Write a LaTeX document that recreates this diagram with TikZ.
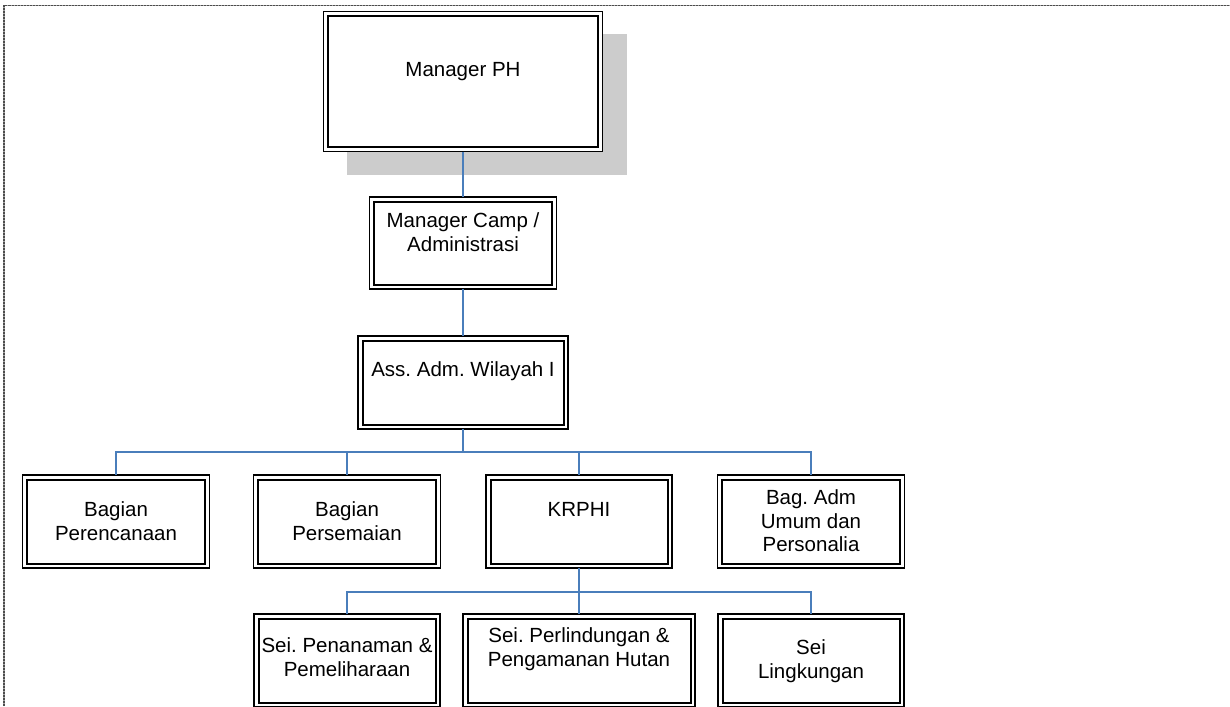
\documentclass[tikz,border=0pt]{standalone}
\usepackage{fontspec}
\setmainfont{Liberation Sans}
\definecolor{connc}{RGB}{74,126,187}
\definecolor{shadowc}{RGB}{204,204,204}
\newcommand{\boxtext}[4]{\parbox[c][#2pt][t]{#1pt}{\frenchspacing\centering\rule{0pt}{\dimexpr#3pt+14.7pt\relax}#4}}
\tikzset{
  orgbox/.style={draw, line width=1.3pt, fill=white, inner sep=0pt, outer sep=0pt,
    font=\fontsize{20.5}{23.3}\selectfont},
  conn/.style={draw=connc, line width=2pt},
  innerline/.style={line width=2pt},
}
\begin{document}
\begin{tikzpicture}[x=1pt,y=-1pt]
\useasboundingbox (0,0) rectangle (1230,706);
\clip (0,0) rectangle (1230,706);
% shadow
\fill[shadowc] (346.7,34) rectangle (626.7,175);
% boxes
\node[orgbox] (mph) at (463,81.5) {\boxtext{279}{140}{50}{Manager PH}};
\node[orgbox] (mcamp) at (463,243) {\boxtext{187}{92}{16}{Manager Camp /\\Administrasi}};
\node[orgbox] (aadm) at (463,382.5) {\boxtext{210}{93}{26}{Ass. Adm. Wilayah I}};
\node[orgbox] (b1) at (116,521.5) {\boxtext{187}{93}{27}{Bagian\\Perencanaan}};
\node[orgbox] (b2) at (347,521.5) {\boxtext{187}{93}{27}{Bagian\\Persemaian}};
\node[orgbox] (krphi) at (579,521.5) {\boxtext{186}{93}{27}{KRPHI}};
\node[orgbox] (badm) at (811,521.5) {\boxtext{187}{93}{15}{Bag. Adm\\Umum dan\\Personalia}};
\node[orgbox] (s1) at (347,660.5) {\boxtext{186}{93}{24}{Sei. Penanaman \&\\Pemeliharaan}};
\node[orgbox] (s2) at (579,660.5) {\boxtext{232}{93}{14}{Sei. Perlindungan \&\\Pengamanan Hutan}};
\node[orgbox] (s3) at (811,660.5) {\boxtext{186}{93}{26}{Sei\\Lingkungan}};
\foreach \n in {mph,mcamp,aadm,b1,b2,krphi,badm,s1,s2,s3}
  \draw[innerline] ([shift={(4.5pt,-4.5pt)}]\n.north west) rectangle ([shift={(-4.5pt,4.5pt)}]\n.south east);
% connectors
\coordinate (j1) at (463,452);
\coordinate (j2) at (579,592);
\draw[conn] (mph.south) -- (mcamp.north);
\draw[conn] (mcamp.south) -- (aadm.north);
\draw[conn] (aadm.south) -- (j1);
\draw[conn] (b1.north) -- (b1.north |- j1) -- (badm.north |- j1) -- (badm.north);
\draw[conn] (b2.north) -- (b2.north |- j1);
\draw[conn] (krphi.north) -- (krphi.north |- j1);
\draw[conn] (krphi.south) -- (j2);
\draw[conn] (s1.north) -- (s1.north |- j2) -- (s3.north |- j2) -- (s3.north);
\draw[conn] (s2.north) -- (s2.north |- j2);
% page border
\draw[line width=1.6pt, black!35] (4,706) -- (4,5.5) -- (1230,5.5);
\draw[line width=1.6pt, black!70, dash pattern=on 2pt off 1pt] (4,706) -- (4,5.5) -- (1230,5.5);
\end{tikzpicture}
\end{document}
